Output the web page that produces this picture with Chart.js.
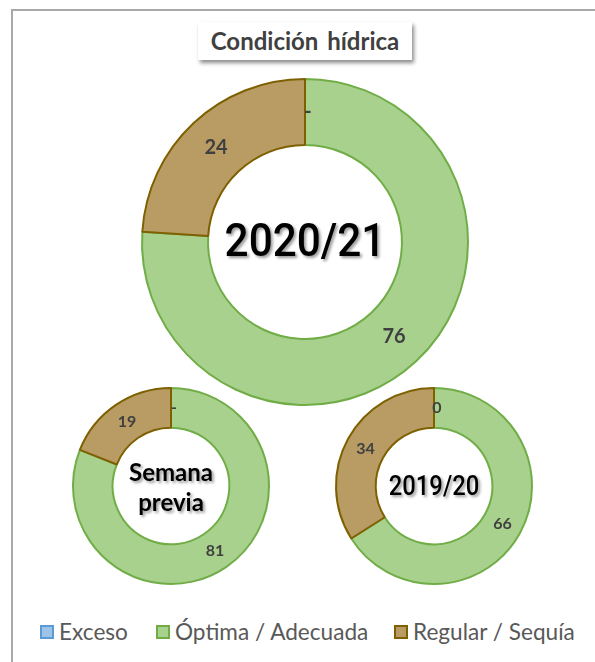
<!DOCTYPE html>
<html>
<head>
<meta charset="utf-8">
<script src="https://cdn.jsdelivr.net/npm/chart.js@4.4.1/dist/chart.umd.min.js"></script>
<style>
  body { margin:0; width:595px; height:662px; background:#fff; position:relative; overflow:hidden; font-family:Lato, "Noto Sans", sans-serif; }
  #frame { position:absolute; left:11px; top:9px; width:600px; height:700px; border-left:2px solid #a9a9a9; border-top:2px solid #a9a9a9; }
  #title { position:absolute; left:198px; top:22px; width:214px; height:38px; background:#fff; box-shadow:2px 3px 4px rgba(0,0,0,0.45);
           font-weight:bold; font-size:24px; color:#404040; text-align:center; line-height:38px; word-spacing:3px; }
  canvas { position:absolute; }
  #legend { position:absolute; top:619px; left:0; width:595px; height:26px; font-size:22.6px; color:#595959; }
  .item { position:absolute; top:0; line-height:26px; white-space:nowrap; }
  .sw { display:inline-block; width:10px; height:10px; border:2px solid; vertical-align:middle; margin-right:5px; position:relative; top:-2px; }
</style>
</head>
<body>
<div id="frame"></div>
<div id="title">Condición hídrica</div>
<canvas id="c1" width="340" height="340" style="left:135px;top:72px"></canvas>
<canvas id="c2" width="210" height="210" style="left:66px;top:381px"></canvas>
<canvas id="c3" width="210" height="210" style="left:329px;top:381px"></canvas>
<div id="legend"></div>
<script>
var categories = ['Exceso', 'Óptima / Adecuada', 'Regular / Sequía'];
var actual = [0, 76, 24];        // 2020/21
var semanaPrevia = [0, 81, 19];
var anterior = [0, 66, 34];      // 2019/20

var fills = ['#9dc3e6', '#a9d18e', '#b89c63'];
var lines = ['#5b9bd5', '#70ad47', '#7f6000'];

var ringLabels = {
  id: 'ringLabels',
  afterDatasetsDraw: function(chart, args, o) {
    var ctx = chart.ctx;
    var meta = chart.getDatasetMeta(0);
    var data = chart.data.datasets[0].data;
    ctx.save();
    ctx.fillStyle = '#404040';
    ctx.font = 'bold ' + o.size + 'px Lato, "Noto Sans", sans-serif';
    ctx.textAlign = 'center';
    ctx.textBaseline = 'middle';
    meta.data.forEach(function(arc, i) {
      var p = arc.getCenterPoint();
      var t = data[i] === 0 ? o.zero : String(data[i]);
      ctx.fillText(t, p.x + (data[i] === 0 ? 3 : 0), p.y);
    });
    // centre text
    var a = meta.data[0];
    ctx.shadowColor = 'rgba(0,0,0,0.4)';
    ctx.shadowOffsetX = 2;
    ctx.shadowOffsetY = 2;
    ctx.shadowBlur = 3;
    ctx.fillStyle = '#000';
    ctx.font = o.cfont;
    ctx.translate(a.x, a.y);
    ctx.scale(o.sx, 1);
    var lh = o.lineH;
    var n = o.center.length;
    o.center.forEach(function(s, k) {
      ctx.fillText(s, 0, (k - (n - 1) / 2) * lh + o.dy);
    });
    ctx.restore();
  }
};

function ring(id, values, pad, lab) {
  return new Chart(document.getElementById(id), {
    type: 'doughnut',
    data: {
      labels: categories,
      datasets: [{
        data: values,
        backgroundColor: fills,
        borderColor: lines,
        borderWidth: 2
      }]
    },
    options: {
      responsive: false,
      animation: false,
      cutout: '59.5%',
      layout: { padding: pad },
      plugins: {
        legend: { display: false },
        tooltip: { enabled: false },
        ringLabels: lab
      }
    },
    plugins: [ringLabels]
  });
}

ring('c1', actual, 6, { size: 20, zero: '-', center: ['2020/21'], cfont: '500 46px Roboto, sans-serif', sx: 0.92, lineH: 0, dy: 2 });
ring('c2', semanaPrevia, 6, { size: 16, zero: '-', center: ['Semana', 'previa'], cfont: 'bold 24px Lato, sans-serif', sx: 1, lineH: 30, dy: 2 });
ring('c3', anterior, 6, { size: 16, zero: '0', center: ['2019/20'], cfont: '500 28px Roboto, sans-serif', sx: 0.85, lineH: 0, dy: 2 });

var lx = [40, 156, 394];
var leg = document.getElementById('legend');
categories.forEach(function(c, i) {
  var d = document.createElement('div');
  d.className = 'item';
  d.style.left = lx[i] + 'px';
  d.innerHTML = '<span class="sw" style="background:' + fills[i] + ';border-color:' + lines[i] + '"></span>' + c;
  leg.appendChild(d);
});
</script>
</body>
</html>
